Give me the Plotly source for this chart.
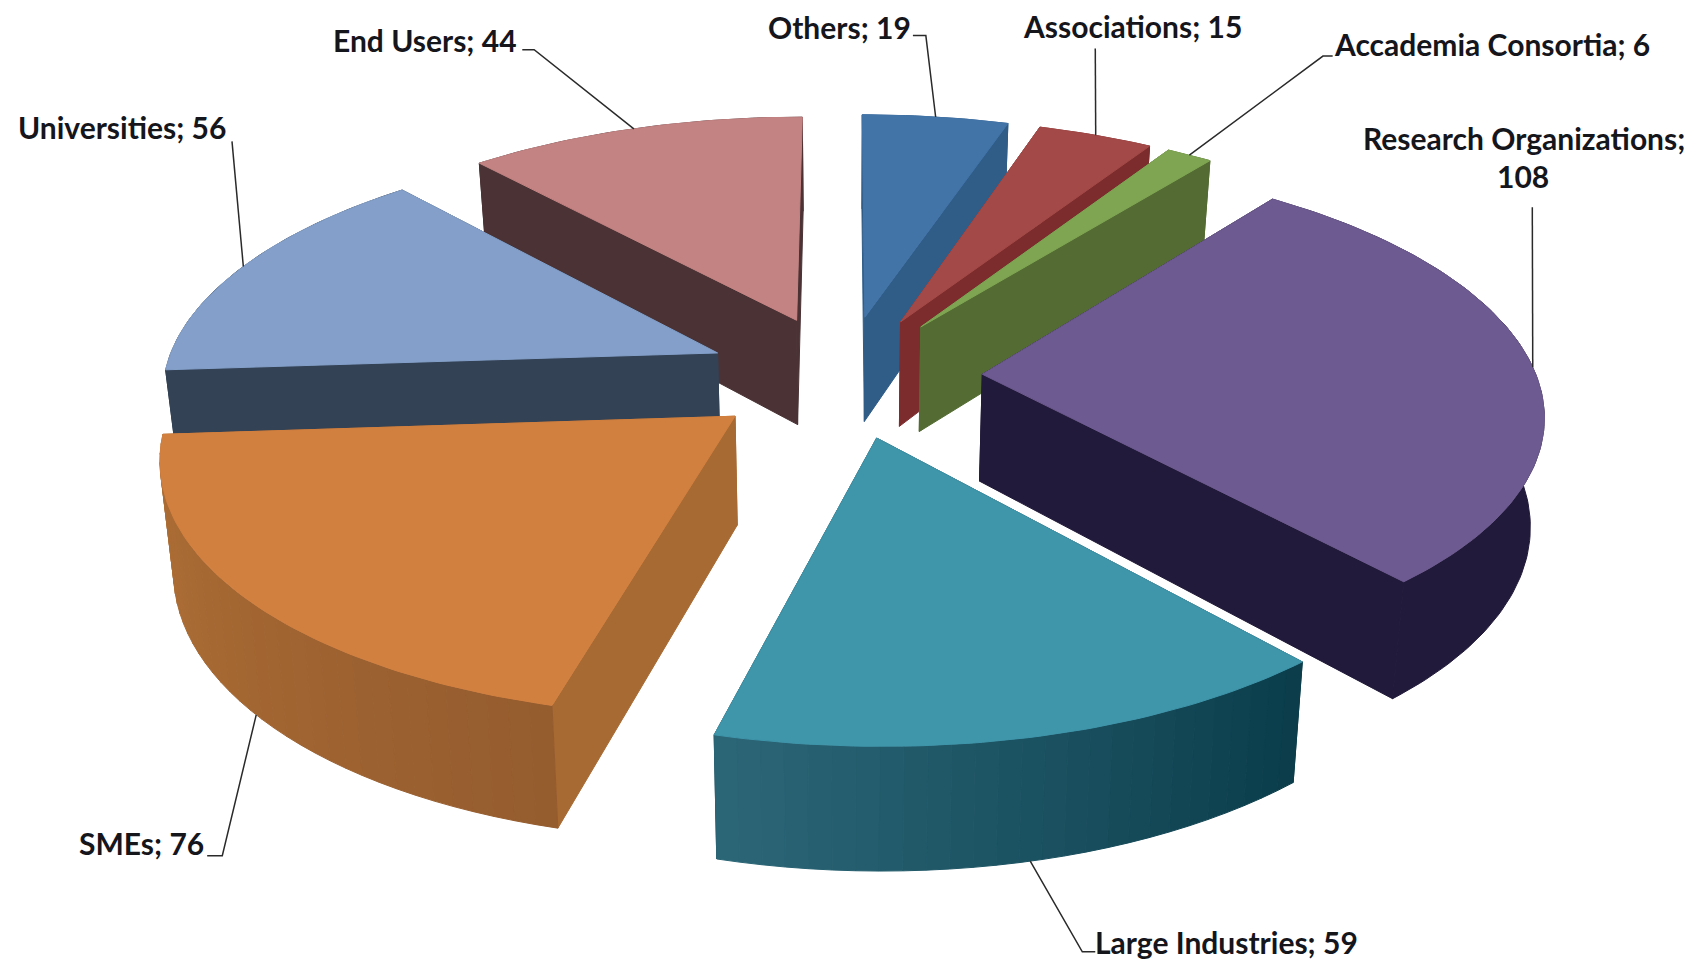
import math
import plotly.graph_objects as go

# ---- data, clockwise from twelve o'clock ----
categories = ["Others", "Associations", "Accademia Consortia", "Research Organizations",
              "Large Industries", "SMEs", "Universities", "End Users"]
values = [19, 15, 6, 108, 59, 76, 56, 44]

# ---- styles ----
top_colors = ["#4374a8", "#a34a48", "#7fa553", "#6d5a90", "#3f95aa", "#d28040", "#84a0ca", "#c48383"]
side_colors = ["#2f5d88", "#7d2c2e", "#546c33", "#221a3a", "#12414f", "#a86a33", "#344256", "#4b3335"]
wall_start = ["#2f5d88", "#7d2c2e", "#546c33", "#221a3a", "#0b3d4b", "#955c2e", "#344256", "#4b3335"]
wall_end = ["#2f5d88", "#7d2c2e", "#546c33", "#221a3a", "#2b6677", "#b07036", "#344256", "#4b3335"]
paint_order = [7, 0, 1, 2, 6, 3, 5, 4]

# ---- projection (pixels of the 1692x959 page) ----
K = 1692 / 1568
CX, CY = 844, 376
RX, RY = 554, 246
PERSP = 0.14
EXPLODE = 0.25
HEIGHT = 107
INSET = 0.98


def project(u, v, bottom=False):
    s = 1 / (1 + PERSP * v)
    x = RX * u * s
    y = CY - RY * v * s
    if bottom:
        return CX + x * INSET, y + HEIGHT * s ** 0.8
    return CX + x, y


def point(theta, radius, bis, bottom=False):
    u = radius * math.sin(theta) + EXPLODE * math.sin(bis)
    v = radius * math.cos(theta) + EXPLODE * math.cos(bis)
    return project(u, v, bottom)


def hex_mix(a, b, t):
    ca = [int(a[i:i + 2], 16) for i in (1, 3, 5)]
    cb = [int(b[i:i + 2], 16) for i in (1, 3, 5)]
    return "#" + "".join(f"{round(p + (q - p) * t):02x}" for p, q in zip(ca, cb))


def poly(fig, pts, color, name):
    xs = [p[0] for p in pts] + [pts[0][0]]
    ys = [p[1] for p in pts] + [pts[0][1]]
    fig.add_trace(go.Scatter(x=xs, y=ys, mode="lines", fill="toself", fillcolor=color,
                             line=dict(color=color, width=1), hoverinfo="text",
                             text=name, showlegend=False))


total = sum(values)
angles = [0.0]
for val in values:
    angles.append(angles[-1] + val / total * 2 * math.pi)

fig = go.Figure()

for i in paint_order:
    a0, a1 = angles[i], angles[i + 1]
    bis = (a0 + a1) / 2
    name = f"{categories[i]}; {values[i]}"
    faces = []
    # radial faces
    for edge in (a0, a1):
        depth = math.cos(edge) / 2 + EXPLODE * math.cos(bis)
        pts = [point(0, 0, bis), point(edge, 1, bis), point(edge, 1, bis, True), point(0, 0, bis, True)]
        faces.append((depth, pts, side_colors[i]))
    # outer wall: one piece when its colour is flat, narrow strips when it shades
    m = max(8, int((a1 - a0) / math.radians(1)))
    arc = [a0 + (a1 - a0) * j / m for j in range(m + 1)]
    if wall_start[i] == wall_end[i]:
        pts = [point(t, 1, bis) for t in arc] + [point(t, 1, bis, True) for t in reversed(arc)]
        faces.append((math.cos(bis) + EXPLODE * math.cos(bis), pts, wall_start[i]))
    else:
        n = max(2, int((a1 - a0) / math.radians(2)))
        for j in range(n):
            t0 = a0 + (a1 - a0) * j / n
            t1 = a0 + (a1 - a0) * (j + 1) / n
            depth = math.cos((t0 + t1) / 2) + EXPLODE * math.cos(bis)
            pts = [point(t0, 1, bis), point(t1, 1, bis), point(t1, 1, bis, True), point(t0, 1, bis, True)]
            faces.append((depth, pts, hex_mix(wall_start[i], wall_end[i], j / max(1, n - 1))))
    for depth, pts, col in sorted(faces, key=lambda f: -f[0]):
        poly(fig, pts, col, name)
    # top face
    top = [point(0, 0, bis)] + [point(t, 1, bis) for t in arc]
    poly(fig, top, top_colors[i], name)

# ---- leaders and labels (positions read in the 1568-wide view) ----
leader_elbows = {
    0: [(846, 33), (858, 33)],
    1: [(1015, 45)],
    2: [(1235, 52), (1226, 52)],
    3: [(1420, 192)],
    4: [(1015, 882), (1003, 882)],
    5: [(192, 793), (206, 793)],
    6: [(215, 131)],
    7: [(484, 46), (495, 46)],
}
leader_on_base = {4, 5}
for i, elbows in leader_elbows.items():
    bis = (angles[i] + angles[i + 1]) / 2
    end = point(bis, 1, bis, i in leader_on_base)
    xs = [p[0] * K for p in elbows] + [end[0]]
    ys = [p[1] * K for p in elbows] + [end[1]]
    fig.add_trace(go.Scatter(x=xs, y=ys, mode="lines", line=dict(color="#2a2a2a", width=1.5),
                             hoverinfo="skip", showlegend=False))

label_spots = {
    0: (846, 25, "right"),
    1: (946, 24, "left"),
    2: (1234, 41, "left"),
    4: (1013, 873, "left"),
    5: (191, 781, "right"),
    6: (211, 118, "right"),
    7: (481, 37, "right"),
}
FONT = dict(family="Lato, Carlito, Calibri, sans-serif", size=30, color="#15151c")
for i, (x, y, anchor) in label_spots.items():
    fig.add_annotation(x=x * K, y=y * K, text=f"<b>{categories[i]}; {values[i]}</b>", showarrow=False,
                       xanchor=anchor, yanchor="middle", font=FONT)
fig.add_annotation(x=1563 * K, y=128 * K, text=f"<b>{categories[3]};</b>", showarrow=False,
                   xanchor="right", yanchor="middle", font=FONT)
fig.add_annotation(x=1411 * K, y=163 * K, text=f"<b>{values[3]}</b>", showarrow=False,
                   xanchor="center", yanchor="middle", font=FONT)

fig.update_layout(width=1692, height=959, margin=dict(l=0, r=0, t=0, b=0),
                  paper_bgcolor="white", plot_bgcolor="white", showlegend=False,
                  xaxis=dict(range=[0, 1692], visible=False, fixedrange=True),
                  yaxis=dict(range=[959, 0], visible=False, fixedrange=True))

fig.write_html("out.html", post_script="document.body.style.margin='0';document.body.style.overflow='hidden';",
               config=dict(displayModeBar=False))
